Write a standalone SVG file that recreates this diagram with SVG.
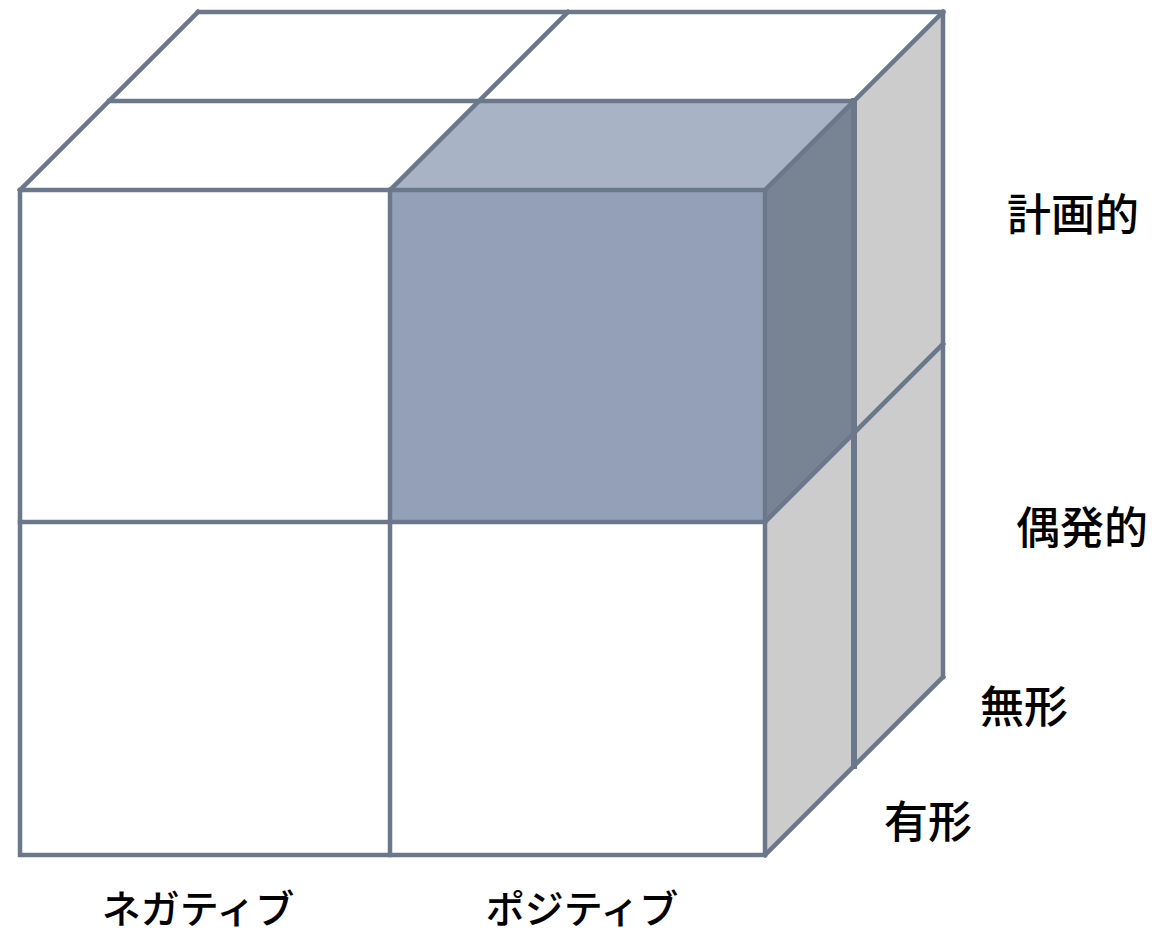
<svg xmlns="http://www.w3.org/2000/svg" width="1155" height="934" viewBox="0 0 1155 934">
<style>
.ln{stroke:#6B788C;stroke-width:4.5;fill:none;stroke-linecap:square;stroke-linejoin:miter}
.lbl{font-family:"Noto Sans CJK JP","Noto Sans",sans-serif;font-size:44px;font-weight:500;fill:#000}
.kana{font-size:39px}
</style>
<rect width="1155" height="934" fill="#fff"/>
<g id="cube">
<g id="faces">
<polygon id="top-face" points="20,190 198,12 943,12 765,190" fill="#fff"/>
<polygon id="side-face" points="765,190 943,12 943,677 765,855" fill="#CCCCCC"/>
<rect id="front-face" x="20" y="190" width="745" height="665" fill="#fff"/>
</g>
<g id="highlight">
<rect x="390" y="190" width="375" height="332" fill="#93A0B8"/>
<polygon points="390,190 479,101 854,101 765,190" fill="#A8B3C5"/>
<polygon points="765,190 854,101 854,433 765,522" fill="#788393"/>
</g>
<g id="edges" class="ln">
<rect x="20" y="190" width="745" height="665"/>
<line x1="390" y1="190" x2="390" y2="855"/>
<line x1="20" y1="522" x2="765" y2="522"/>
<line x1="198" y1="12" x2="943" y2="12"/>
<line x1="20" y1="190" x2="198" y2="12"/>
<line x1="390" y1="190" x2="568" y2="12"/>
<line x1="765" y1="190" x2="943" y2="12"/>
<line x1="109" y1="101" x2="854" y2="101"/>
<line x1="943" y1="12" x2="943" y2="677"/>
<line x1="854" y1="101" x2="854" y2="766" stroke-width="6"/>
<line x1="765" y1="855" x2="943" y2="677"/>
<line x1="765" y1="522" x2="943" y2="344"/>
</g>
</g>
<g id="labels">
<text class="lbl" x="1007" y="231">計画的</text>
<text class="lbl" x="1016" y="544">偶発的</text>
<text class="lbl" x="980" y="723">無形</text>
<text class="lbl" x="884" y="838">有形</text>
<text class="lbl kana" x="198" y="923" text-anchor="middle">ネガティブ</text>
<text class="lbl kana" x="582" y="923" text-anchor="middle">ポジティブ</text>
</g>
</svg>
